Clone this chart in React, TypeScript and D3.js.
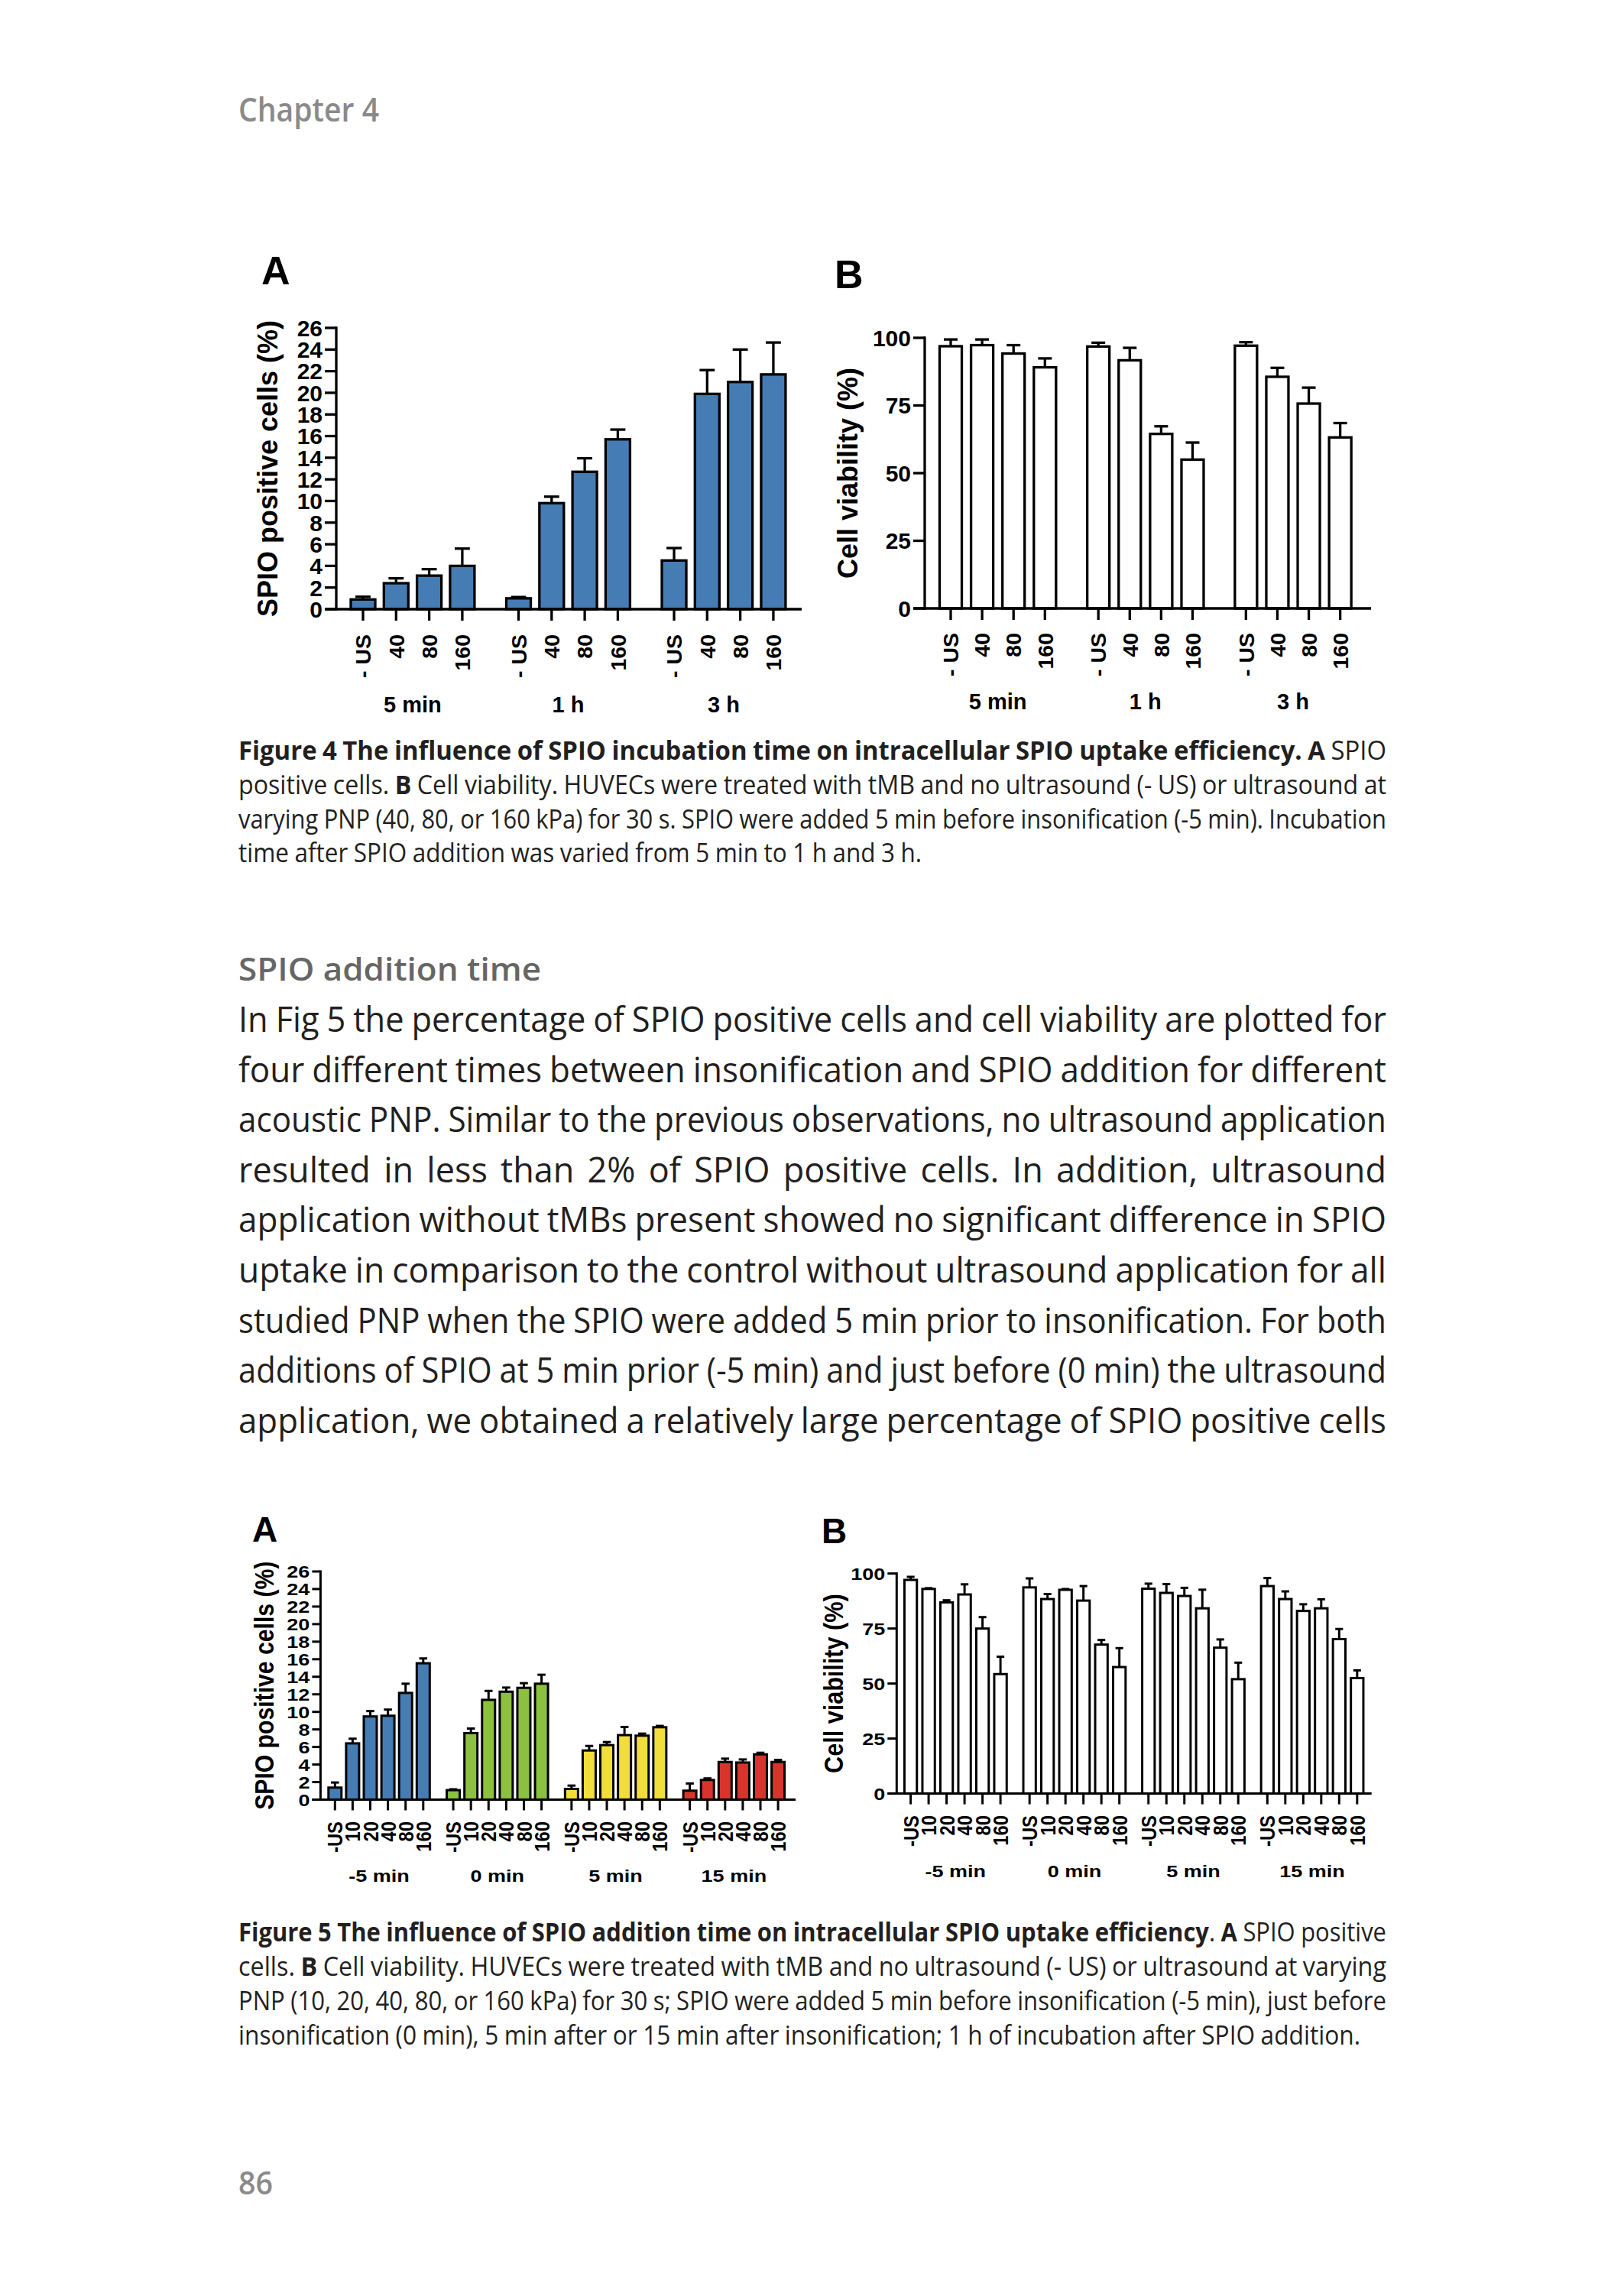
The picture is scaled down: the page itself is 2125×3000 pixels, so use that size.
import * as d3 from "d3";

const FIG_FONT = "'Liberation Sans', Arial, Helvetica, sans-serif";
const TEXT_FONT = "'Open Sans', 'Noto Sans', sans-serif";

// ---- Figure 4 data ----
const fig4Groups = ["5 min", "1 h", "3 h"];
const fig4Conditions = ["- US", "40", "80", "160"];
const fig4SpioMean = [
  [0.9, 2.4, 3.1, 4.0],
  [1.0, 9.8, 12.7, 15.7],
  [4.5, 19.9, 21.0, 21.7],
];
const fig4SpioErr = [
  [0.25, 0.45, 0.6, 1.6],
  [0.12, 0.6, 1.25, 0.9],
  [1.15, 2.2, 3.0, 2.95],
];
const fig4ViabMean = [
  [96.9, 97.3, 94.2, 89.1],
  [96.8, 91.7, 64.5, 55.0],
  [97.1, 85.6, 75.7, 63.2],
];
const fig4ViabErr = [
  [2.5, 2.1, 3.1, 3.3],
  [1.4, 4.6, 2.8, 6.3],
  [1.3, 3.3, 5.9, 5.3],
];

// ---- Figure 5 data ----
const fig5Groups = ["-5 min", "0 min", "5 min", "15 min"];
const fig5Conditions = ["-US", "10", "20", "40", "80", "160"];
const fig5SpioMean = [
  [1.37, 6.41, 9.48, 9.56, 12.16, 15.54],
  [1.08, 7.58, 11.37, 12.3, 12.74, 13.21],
  [1.22, 5.6, 6.21, 7.35, 7.29, 8.25],
  [1.02, 2.24, 4.29, 4.23, 5.16, 4.29],
];
const fig5SpioErr = [
  [0.58, 0.53, 0.61, 0.7, 1.05, 0.55],
  [0.1, 0.52, 1.02, 0.47, 0.53, 1.02],
  [0.38, 0.52, 0.35, 0.93, 0.23, 0.15],
  [0.82, 0.18, 0.38, 0.35, 0.18, 0.23],
];
const fig5ViabMean = [
  [97.1, 93.0, 86.9, 90.5, 75.0, 54.3],
  [93.7, 88.4, 92.6, 87.7, 67.7, 57.5],
  [93.1, 91.2, 89.8, 84.2, 66.3, 52.0],
  [94.3, 88.4, 83.0, 84.2, 70.2, 52.5],
];
const fig5ViabErr = [
  [1.4, 0.35, 0.95, 4.6, 5.2, 7.9],
  [4.1, 2.3, 0.35, 6.6, 2.1, 8.6],
  [2.3, 4.0, 3.7, 8.45, 3.75, 7.5],
  [3.65, 3.5, 3.05, 4.1, 4.6, 3.5],
];

// tick labels
const spioTicks = [0, 2, 4, 6, 8, 10, 12, 14, 16, 18, 20, 22, 24, 26];
const viabTicks = [0, 25, 50, 75, 100];

const fig5Colors = ["#467cb4", "#8cc040", "#f2de3a", "#d8342c"];

// ---- page text ----
type Seg = [string, boolean];

const caption4Lines: Seg[][] = [
  [["Figure 4 The influence of SPIO incubation time on intracellular SPIO uptake efficiency. A", true], [" SPIO", false]],
  [["positive cells. ", false], ["B", true], [" Cell viability. HUVECs were treated with tMB and no ultrasound (- US) or ultrasound at", false]],
  [["varying PNP (40, 80, or 160 kPa) for 30 s. SPIO were added 5 min before insonification (-5 min). Incubation", false]],
  [["time after SPIO addition was varied from 5 min to 1 h and 3 h.", false]],
];

const bodyLines = [
  "In Fig 5 the percentage of SPIO positive cells and cell viability are plotted for",
  "four different times between insonification and SPIO addition for different",
  "acoustic PNP. Similar to the previous observations, no ultrasound application",
  "resulted in less than 2% of SPIO positive cells. In addition, ultrasound",
  "application without tMBs present showed no significant difference in SPIO",
  "uptake in comparison to the control without ultrasound application for all",
  "studied PNP when the SPIO were added 5 min prior to insonification. For both",
  "additions of SPIO at 5 min prior (-5 min) and just before (0 min) the ultrasound",
  "application, we obtained a relatively large percentage of SPIO positive cells",
];

const caption5Lines: Seg[][] = [
  [["Figure 5 The influence of SPIO addition time on intracellular SPIO uptake efficiency", true], [". ", false], ["A", true], [" SPIO positive", false]],
  [["cells. ", false], ["B", true], [" Cell viability. HUVECs were treated with tMB and no ultrasound (- US) or ultrasound at varying", false]],
  [["PNP (10, 20, 40, 80, or 160 kPa) for 30 s; SPIO were added 5 min before insonification (-5 min), just before", false]],
  [["insonification (0 min), 5 min after or 15 min after insonification; 1 h of incubation after SPIO addition.", false]],
];

// ---- text measuring / justification ----
let measureCtx: CanvasRenderingContext2D | null = null;
function textWidth(t: string, bold: boolean, size: number) {
  if (!measureCtx) measureCtx = document.createElement("canvas").getContext("2d");
  measureCtx!.font = `${bold ? 700 : 400} ${size}px 'Open Sans'`;
  return measureCtx!.measureText(t).width;
}

function splitWords(segs: Seg[]) {
  const words: Seg[][] = [];
  let cur: Seg[] = [];
  segs.forEach(([t, b]) => {
    t.split(" ").forEach((p, i) => {
      if (i > 0) {
        if (cur.length) words.push(cur);
        cur = [];
      }
      if (p) cur.push([p, b]);
    });
  });
  if (cur.length) words.push(cur);
  return words;
}

// word-by-word justified line; glyphs squeezed a little (Myriad is narrower than Open Sans)
function JustifiedLine({ segs, x, y, width, size, fill }: any) {
  const words = splitWords(segs);
  const widths = words.map((w) => d3.sum(w, ([t, b]) => textWidth(t, b, size)));
  const W = d3.sum(widths);
  const n = words.length;
  const natGap = size * 0.22;
  let k = n > 1 ? (width - natGap * (n - 1)) / W : width / W;
  k = Math.max(0.72, Math.min(1.0, k));
  const gap = n > 1 ? (width - k * W) / (n - 1) : 0;
  let cx = x;
  return (
    <g fill={fill} fontFamily={TEXT_FONT} fontSize={size}>
      {words.map((w, i) => {
        const el = (
          <text key={i} transform={`translate(${cx},${y}) scale(${k},1)`}>
            {w.map(([t, b], j) => (
              <tspan key={j} fontWeight={b ? 700 : 400}>
                {t}
              </tspan>
            ))}
          </text>
        );
        cx += widths[i] * k + gap;
        return el;
      })}
    </g>
  );
}

// ---- bar panel ----
function BarPanel(p: any) {
  const y = d3.scaleLinear().domain([0, p.yMax]).range([p.y0, p.yTop]);
  const n = p.conditions.length;
  const x = d3.scaleLinear().domain([0, 1]).range([p.x1, p.x1 + p.slotW]);
  const sy = p.sy ?? 1;
  const tf = (tx: number, ty: number, extra = "") => `translate(${tx},${ty}) scale(1,${sy})${extra}`;
  const bars = p.means.flatMap((g: number[], gi: number) =>
    g.map((v, i) => ({ gi, i, v, e: p.errs[gi][i], cx: x(gi * (n + p.gap) + i) }))
  );
  const sw = p.stroke;
  const cap = p.barW * 0.62;
  return (
    <g fontFamily={FIG_FONT} fontWeight="bold" fill="#000">
      {/* bars with upper error bars */}
      {bars.map((d: any, k: number) => (
        <g key={k}>
          <line x1={d.cx} x2={d.cx} y1={y(d.v)} y2={y(d.v + d.e)} stroke="#000" strokeWidth={sw} />
          <line x1={d.cx - cap / 2} x2={d.cx + cap / 2} y1={y(d.v + d.e)} y2={y(d.v + d.e)} stroke="#000" strokeWidth={sw} />
          <rect
            x={d.cx - p.barW / 2}
            y={y(d.v)}
            width={p.barW}
            height={y(0) - y(d.v)}
            fill={p.colors ? p.colors[d.gi] : "#fff"}
            stroke="#000"
            strokeWidth={sw}
          />
        </g>
      ))}
      {/* y axis */}
      <line x1={p.axisX} x2={p.axisX} y1={y(p.yMax)} y2={y(0)} stroke="#000" strokeWidth={sw} strokeLinecap="square" />
      {p.ticks.map((t: number) => (
        <g key={t}>
          <line x1={p.axisX - p.tickLen} x2={p.axisX} y1={y(t)} y2={y(t)} stroke="#000" strokeWidth={sw} />
          <text transform={tf(p.axisX - p.tickLen - 3, y(t))} dy="0.36em" textAnchor="end" fontSize={p.tickFont}>
            {t}
          </text>
        </g>
      ))}
      {/* x axis */}
      <line x1={p.axisX - p.tickLen} x2={p.xEnd} y1={y(0)} y2={y(0)} stroke="#000" strokeWidth={sw} />
      {bars.map((d: any, k: number) => (
        <g key={k}>
          <line x1={d.cx} x2={d.cx} y1={y(0)} y2={y(0) + p.xTickLen} stroke="#000" strokeWidth={sw} />
          <text transform={tf(d.cx, p.labelTop, " rotate(-90)")} dy="0.36em" textAnchor="end" fontSize={p.xTickFont}>
            {p.conditions[d.i]}
          </text>
        </g>
      ))}
      {p.groups.map((g: string, gi: number) => {
        const c = (x(gi * (n + p.gap)) + x(gi * (n + p.gap) + n - 1)) / 2;
        return (
          <text key={g} transform={tf(c, p.groupBase)} textAnchor="middle" fontSize={p.groupFont}>
            {g}
          </text>
        );
      })}
      {/* y title */}
      <text
        transform={tf(p.titleX, (y(0) + y(p.yMax)) / 2, " rotate(-90)")}
        dy="0.33em"
        textAnchor="middle"
        fontSize={p.titleFont}
      >
        {p.title}
      </text>
      <text x={p.letterX} y={p.letterY} fontSize={p.letterFont}>
        {p.letter}
      </text>
    </g>
  );
}

export default function App() {
  const L = 312;
  const TW = 1502;
  return (
    <svg width={2125} height={3000} style={{ position: "absolute", left: 0, top: 0, background: "#fff" }}>
      <rect width={2125} height={3000} fill="#fff" />
      <text x={L} y={159} fontFamily={TEXT_FONT} fontWeight={600} fontSize={43} fill="#8a8a8a" textLength={184} lengthAdjust="spacingAndGlyphs">
        Chapter 4
      </text>

      <BarPanel
        groups={fig4Groups} conditions={fig4Conditions} means={fig4SpioMean} errs={fig4SpioErr}
        colors={[fig5Colors[0], fig5Colors[0], fig5Colors[0]]}
        yMax={26} ticks={spioTicks} axisX={440} y0={797} yTop={429}
        x1={475} slotW={43.3} gap={0.7} barW={32} xEnd={1049}
        tickLen={15} xTickLen={15} stroke={3.3} tickFont={30} xTickFont={28.5}
        labelTop={830} groupBase={932} groupFont={29}
        title="SPIO positive cells (%)" titleX={351} titleFont={36}
        letter="A" letterX={342} letterY={372} letterFont={52}
      />
      <BarPanel
        groups={fig4Groups} conditions={fig4Conditions} means={fig4ViabMean} errs={fig4ViabErr}
        yMax={100} ticks={viabTicks} axisX={1210} y0={796} yTop={442}
        x1={1244} slotW={41.1} gap={0.7} barW={29} xEnd={1794}
        tickLen={15} xTickLen={15} stroke={3.3} tickFont={30} xTickFont={28.5}
        labelTop={828} groupBase={928} groupFont={29}
        title="Cell viability (%)" titleX={1110} titleFont={36}
        letter="B" letterX={1092} letterY={377} letterFont={52}
      />

      {caption4Lines.map((segs, i) => (
        <JustifiedLine key={i} segs={segs} x={L} y={994 + i * 44.8} width={i === 3 ? 894 : TW} size={34} fill="#231f20" />
      ))}

      <text x={L} y={1283} fontFamily={TEXT_FONT} fontWeight={600} fontSize={41} fill="#666" textLength={396} lengthAdjust="spacingAndGlyphs">
        SPIO addition time
      </text>
      {bodyLines.map((t, i) => (
        <JustifiedLine key={i} segs={[[t, false]]} x={L} y={1350 + i * 65.6} width={TW} size={45} fill="#231f20" />
      ))}

      <BarPanel
        groups={fig5Groups} conditions={fig5Conditions} means={fig5SpioMean} errs={fig5SpioErr}
        colors={fig5Colors}
        yMax={26} ticks={spioTicks} axisX={419.4} y0={2354.5} yTop={2056}
        x1={438.3} slotW={23.1} gap={0.7} barW={17} xEnd={1041}
        tickLen={11} xTickLen={14} stroke={3} tickFont={27} xTickFont={28} sy={0.85}
        labelTop={2383} groupBase={2462} groupFont={27}
        title="SPIO positive cells (%)" titleX={346} titleFont={35.5}
        letter="A" letterX={330} letterY={2017} letterFont={46}
      />
      <BarPanel
        groups={fig5Groups} conditions={fig5Conditions} means={fig5ViabMean} errs={fig5ViabErr}
        yMax={100} ticks={viabTicks} axisX={1173.3} y0={2346.6} yTop={2058.7}
        x1={1191.6} slotW={23.5} gap={0.62} barW={16.3} xEnd={1794.7}
        tickLen={12} xTickLen={14} stroke={3} tickFont={27} xTickFont={28} sy={0.85}
        labelTop={2375} groupBase={2456} groupFont={27}
        title="Cell viability (%)" titleX={1091} titleFont={36}
        letter="B" letterX={1075} letterY={2019} letterFont={46}
      />

      {caption5Lines.map((segs, i) => (
        <JustifiedLine key={i} segs={segs} x={L} y={2540 + i * 45} width={i === 3 ? 1468 : TW} size={34} fill="#231f20" />
      ))}

      <text x={L} y={2871} fontFamily={TEXT_FONT} fontWeight={600} fontSize={41} fill="#8a8a8a" textLength={45} lengthAdjust="spacingAndGlyphs">
        86
      </text>
    </svg>
  );
}
